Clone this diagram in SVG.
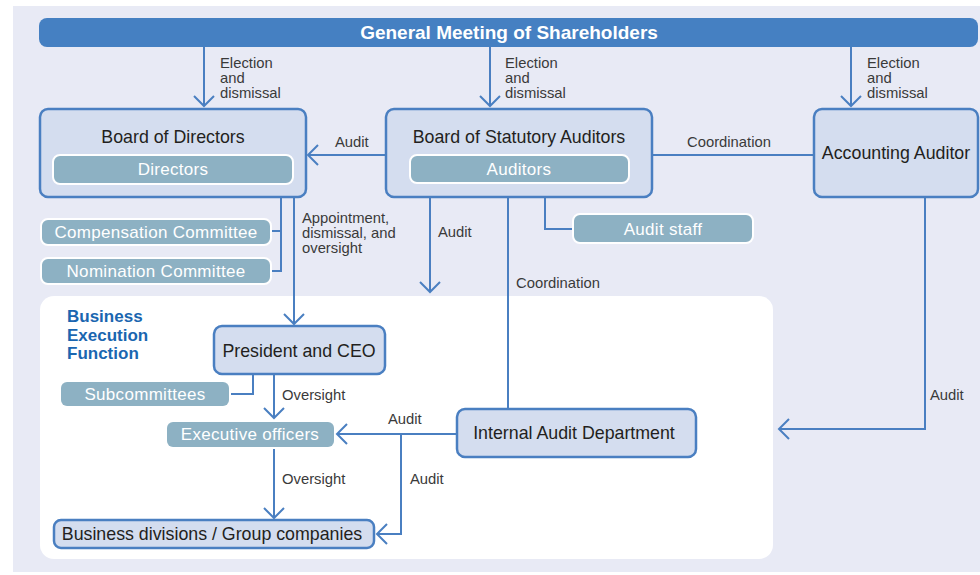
<svg xmlns="http://www.w3.org/2000/svg" width="980" height="575" viewBox="0 0 980 575">
<defs>
<style>
.bg{fill:#E8EAF5}
.inner{fill:#FFFFFF}
.box{fill:#D4DDEF;stroke:#4A7FC1;stroke-width:2.5}
.pill{fill:#8DB1C3;stroke:#FFFFFF;stroke-width:2}
.pill2{fill:#8DB1C3}
.ln{fill:none;stroke:#4A7FC1;stroke-width:2}
.t{font-family:"Liberation Sans",Arial,sans-serif;font-size:17.8px;fill:#231F20}
.tw{font-family:"Liberation Sans",Arial,sans-serif;font-size:17px;letter-spacing:0.3px;fill:#FFFFFF}
.lb{font-family:"Liberation Sans",Arial,sans-serif;font-size:14.8px;fill:#3A3A3A}
.hd{font-family:"Liberation Sans",Arial,sans-serif;font-size:19px;font-weight:bold;fill:#FFFFFF}
.bl{font-family:"Liberation Sans",Arial,sans-serif;font-size:17px;font-weight:bold;fill:#1A66B0}
</style>
<marker id="arr" markerUnits="userSpaceOnUse" viewBox="-2 -2 14 24" markerWidth="14" markerHeight="24" refX="10" refY="10" orient="auto">
<path d="M0,0 L10,10 L0,20" fill="none" stroke="#4A7FC1" stroke-width="2"/>
</marker>
</defs>
<rect class="bg" x="13" y="6" width="967" height="566"/>
<rect class="inner" x="40" y="296" width="733" height="263" rx="14"/>

<g id="connectors">
<line class="ln" x1="204" y1="47" x2="204" y2="106" marker-end="url(#arr)"/>
<line class="ln" x1="490" y1="47" x2="490" y2="106" marker-end="url(#arr)"/>
<line class="ln" x1="851" y1="47" x2="851" y2="106" marker-end="url(#arr)"/>
<line class="ln" x1="386" y1="155" x2="308" y2="155" marker-end="url(#arr)"/>
<line class="ln" x1="652" y1="155" x2="814" y2="155"/>
<polyline class="ln" points="272,231 281,231 281,197"/>
<polyline class="ln" points="272,271 281,271 281,231"/>
<line class="ln" x1="294" y1="197" x2="294" y2="324" marker-end="url(#arr)"/>
<line class="ln" x1="430" y1="197" x2="430" y2="292" marker-end="url(#arr)"/>
<polyline class="ln" points="545,197 545,229 573,229"/>
<line class="ln" x1="508" y1="197" x2="508" y2="409"/>
<polyline class="ln" points="925,197 925,429 779,429" marker-end="url(#arr)"/>
<polyline class="ln" points="253,374 253,394 231,394"/>
<line class="ln" x1="274" y1="374" x2="274" y2="418" marker-end="url(#arr)"/>
<line class="ln" x1="457" y1="434" x2="337" y2="434" marker-end="url(#arr)"/>
<polyline class="ln" points="401,434 401,534 377,534" marker-end="url(#arr)"/>
<line class="ln" x1="274" y1="449" x2="274" y2="518" marker-end="url(#arr)"/>
<text class="lb" x="220" y="68">Election</text>
<text class="lb" x="220" y="83">and</text>
<text class="lb" x="220" y="98">dismissal</text>
<text class="lb" x="505" y="68">Election</text>
<text class="lb" x="505" y="83">and</text>
<text class="lb" x="505" y="98">dismissal</text>
<text class="lb" x="867" y="68">Election</text>
<text class="lb" x="867" y="83">and</text>
<text class="lb" x="867" y="98">dismissal</text>
<text class="lb" x="335" y="147">Audit</text>
<text class="lb" x="687" y="147">Coordination</text>
<text class="lb" x="302" y="223">Appointment,</text>
<text class="lb" x="302" y="238">dismissal, and</text>
<text class="lb" x="302" y="253">oversight</text>
<text class="lb" x="438" y="237">Audit</text>
<text class="lb" x="516" y="288">Coordination</text>
<text class="lb" x="930" y="400">Audit</text>
<text class="lb" x="282" y="400">Oversight</text>
<text class="lb" x="388" y="424">Audit</text>
<text class="lb" x="410" y="484">Audit</text>
<text class="lb" x="282" y="484">Oversight</text>
</g>

<g id="general-meeting">
<rect x="39" y="18" width="939" height="29" rx="8" fill="#4580C2"/>
<text class="hd" x="509" y="39" text-anchor="middle">General Meeting of Shareholders</text>
</g>

<g id="board-of-directors">
<rect class="box" x="40" y="109" width="266" height="88" rx="8"/>
<text class="t" x="173" y="143" text-anchor="middle">Board of Directors</text>
<rect class="pill" x="53" y="155" width="240" height="29" rx="7"/>
<text class="tw" x="173" y="175" text-anchor="middle">Directors</text>
</g>

<g id="board-of-statutory-auditors">
<rect class="box" x="386" y="109" width="266" height="88" rx="8"/>
<text class="t" x="519" y="143" text-anchor="middle">Board of Statutory Auditors</text>
<rect class="pill" x="410" y="155" width="219" height="28" rx="7"/>
<text class="tw" x="519" y="175" text-anchor="middle">Auditors</text>
</g>

<g id="accounting-auditor">
<rect class="box" x="814" y="109" width="164" height="88" rx="8"/>
<text class="t" x="896" y="159" text-anchor="middle">Accounting Auditor</text>
</g>

<g id="compensation-committee">
<rect class="pill" x="41" y="219" width="230" height="26" rx="7"/>
<text class="tw" x="156" y="238" text-anchor="middle">Compensation Committee</text>
</g>

<g id="nomination-committee">
<rect class="pill" x="41" y="258" width="230" height="26" rx="7"/>
<text class="tw" x="156" y="277" text-anchor="middle">Nomination Committee</text>
</g>

<g id="audit-staff">
<rect class="pill" x="573" y="214" width="180" height="29" rx="7"/>
<text class="tw" x="663" y="235" text-anchor="middle">Audit staff</text>
</g>

<g id="business-execution-function">
<text class="bl" x="67" y="322">Business</text>
<text class="bl" x="67" y="341">Execution</text>
<text class="bl" x="67" y="359">Function</text>
</g>

<g id="president-ceo">
<rect class="box" x="214" y="326" width="171" height="48" rx="8"/>
<text class="t" x="299" y="357" text-anchor="middle">President and CEO</text>
</g>

<g id="subcommittees">
<rect class="pill2" x="61" y="382" width="168" height="24" rx="6"/>
<text class="tw" x="145" y="400" text-anchor="middle">Subcommittees</text>
</g>

<g id="executive-officers">
<rect class="pill2" x="167" y="422" width="167" height="25" rx="6"/>
<text class="tw" x="250" y="440" text-anchor="middle">Executive officers</text>
</g>

<g id="internal-audit-department">
<rect class="box" x="457" y="409" width="239" height="48" rx="8"/>
<text class="t" x="574" y="439" text-anchor="middle">Internal Audit Department</text>
</g>

<g id="business-divisions">
<rect class="box" x="54" y="520" width="320" height="28" rx="7"/>
<text class="t" x="212" y="540" text-anchor="middle">Business divisions / Group companies</text>
</g>
</svg>
